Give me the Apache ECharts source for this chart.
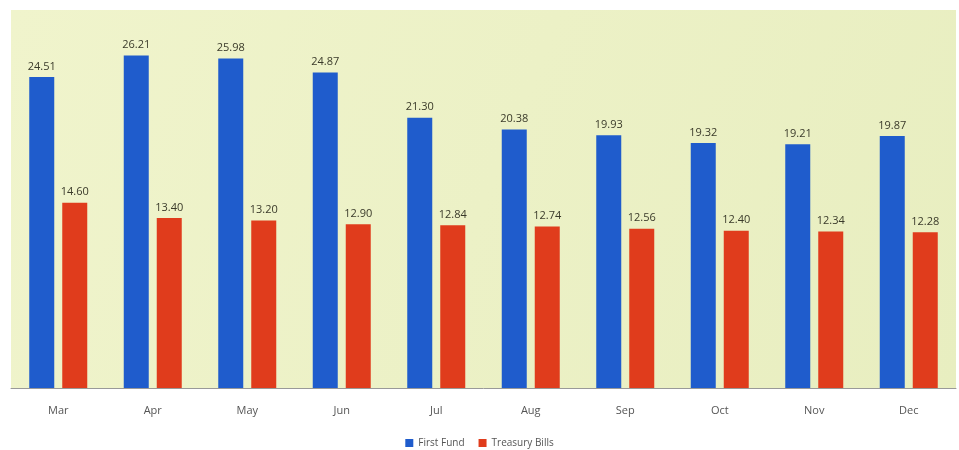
<!DOCTYPE html>
<html>
<head>
<meta charset="utf-8">
<script src="https://cdn.jsdelivr.net/npm/echarts@6/dist/echarts.min.js"></script>
<style>
  html, body { margin: 0; padding: 0; background: #fff; }
  #main { width: 959px; height: 450px; }
</style>
</head>
<body>
<div id="main"></div>
<script>
  // months and values
  var months = ['Mar', 'Apr', 'May', 'Jun', 'Jul', 'Aug', 'Sep', 'Oct', 'Nov', 'Dec'];
  var firstFund = [24.51, 26.21, 25.98, 24.87, 21.30, 20.38, 19.93, 19.32, 19.21, 19.87];
  var treasuryBills = [14.60, 13.40, 13.20, 12.90, 12.84, 12.74, 12.56, 12.40, 12.34, 12.28];

  var chart = echarts.init(document.getElementById('main'));

  var labelStyle = {
    show: true,
    position: 'top',
    distance: 5,
    color: '#3a3a2a',
    fontSize: 11,
    fontFamily: 'Open Sans',
    formatter: function (p) { return p.value.toFixed(2); }
  };

  chart.setOption({
    backgroundColor: '#ffffff',
    grid: {
      left: 11,
      right: 3,
      top: 10,
      bottom: 62,
      show: true,
      borderWidth: 0,
      backgroundColor: new echarts.graphic.LinearGradient(0, 0, 1, 1, [
        { offset: 0, color: '#f0f4cc' },
        { offset: 1, color: '#e8eec0' }
      ])
    },
    legend: {
      top: 438,
      left: 'center',
      padding: 0,
      itemWidth: 8,
      itemHeight: 8,
      itemGap: 14,
      icon: 'rect',
      textStyle: { color: '#555', fontSize: 10, fontFamily: 'Open Sans' },
      data: ['First Fund', 'Treasury Bills']
    },
    xAxis: {
      type: 'category',
      data: months,
      axisLine: { lineStyle: { color: '#999', width: 1 } },
      axisTick: { show: false },
      axisLabel: { color: '#555', fontSize: 11, margin: 17, fontFamily: 'Open Sans' }
    },
    yAxis: {
      type: 'value',
      min: 0,
      max: 29.8,
      show: false,
      splitLine: { show: false }
    },
    series: [
      {
        name: 'First Fund',
        type: 'bar',
        data: firstFund,
        barWidth: 25,
        barGap: '32%',
        itemStyle: { color: '#1f5ccc' },
        label: labelStyle
      },
      {
        name: 'Treasury Bills',
        type: 'bar',
        data: treasuryBills,
        barWidth: 25,
        itemStyle: { color: '#e03c1c' },
        label: labelStyle
      }
    ]
  });
</script>
</body>
</html>
